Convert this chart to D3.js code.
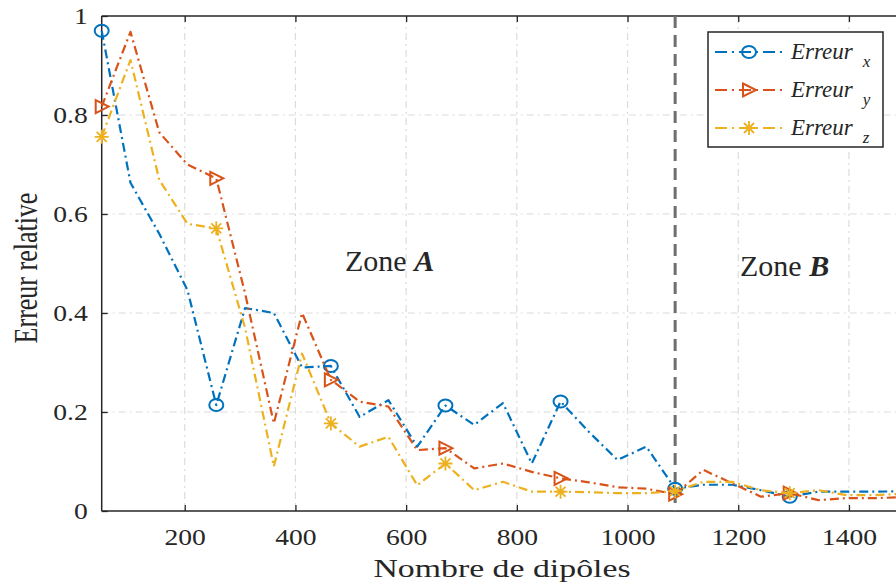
<!DOCTYPE html>
<html>
<head>
<meta charset="utf-8">
<script src="https://cdn.jsdelivr.net/npm/d3@7/dist/d3.min.js"></script>
<style>
  html, body { margin: 0; padding: 0; background: #fff; }
  svg { display: block; }
  text { font-family: "Liberation Serif", "Times New Roman", serif; fill: #262626; }
</style>
</head>
<body>
<svg id="chart" width="896" height="585"></svg>
<script>
// Number of dipoles (x) and relative error per component
const dipoles = [50, 102, 154, 205, 257, 309, 361, 412, 464, 516, 568, 620, 671, 723, 775,
                 827, 879, 930, 982, 1034, 1086, 1137, 1189, 1241, 1293, 1345, 1396, 1448, 1500];
const errX = [0.97, 0.663, 0.56, 0.446, 0.214, 0.41, 0.40, 0.29, 0.293, 0.19, 0.224, 0.13, 0.213, 0.174, 0.218,
              0.096, 0.221, 0.16, 0.103, 0.13, 0.045, 0.053, 0.053, 0.042, 0.029, 0.039, 0.039, 0.039, 0.04];
const errY = [0.817, 0.968, 0.765, 0.70, 0.672, 0.44, 0.177, 0.40, 0.265, 0.221, 0.211, 0.123, 0.127, 0.086, 0.096,
              0.079, 0.066, 0.058, 0.048, 0.045, 0.034, 0.083, 0.056, 0.029, 0.036, 0.022, 0.026, 0.026, 0.028];
const errZ = [0.756, 0.911, 0.669, 0.58, 0.571, 0.37, 0.09, 0.318, 0.177, 0.13, 0.15, 0.052, 0.096, 0.042, 0.059,
              0.039, 0.039, 0.038, 0.036, 0.036, 0.04, 0.059, 0.059, 0.042, 0.036, 0.042, 0.032, 0.032, 0.035];
const xTicks = [200, 400, 600, 800, 1000, 1200, 1400];
const yTicks = [0, 0.2, 0.4, 0.6, 0.8, 1];
const zoneBoundary = 1086;
const seriesNames = ["x", "y", "z"];
const seriesColors = ["#0072BD", "#D95319", "#EDB120"];
const seriesMarkers = ["circle", "triangle", "asterisk"];

const svg = d3.select("#chart");
const plotLeft = 101.7, plotRight = 904.3, plotTop = 16, plotBottom = 511;

const x = d3.scaleLinear().domain([50, 1500]).range([plotLeft, plotRight]);
const y = d3.scaleLinear().domain([0, 1]).range([plotBottom, plotTop]);

// grid
const grid = svg.append("g").attr("stroke", "#dcdcdc").attr("stroke-width", 1.2)
  .attr("stroke-dasharray", "7,4,2,4");
grid.selectAll(".gx").data(xTicks).join("line")
  .attr("x1", d => x(d)).attr("x2", d => x(d)).attr("y1", plotTop).attr("y2", plotBottom);
grid.selectAll(".gy").data(yTicks.filter(d => d > 0 && d < 1)).join("line")
  .attr("y1", d => y(d)).attr("y2", d => y(d)).attr("x1", plotLeft).attr("x2", 896);

// axes
const fmt = d3.format("~g");
const gBottom = svg.append("g").attr("transform", `translate(0,${plotBottom})`)
  .call(d3.axisBottom(x).tickValues(xTicks).tickSize(-6).tickPadding(0).tickFormat(d3.format("d")));
const gTop = svg.append("g").attr("transform", `translate(0,${plotTop})`)
  .call(d3.axisTop(x).tickValues(xTicks).tickSize(-6).tickFormat(""));
const gLeft = svg.append("g").attr("transform", `translate(${plotLeft},0)`)
  .call(d3.axisLeft(y).tickValues(yTicks).tickSize(-6).tickPadding(0).tickFormat(fmt));

[gBottom, gTop, gLeft].forEach(g => {
  g.select(".domain").remove();
  g.selectAll(".tick line").attr("stroke", "#262626").attr("stroke-width", 1.3);
});
gBottom.selectAll(".tick text")
  .attr("y", 0).attr("dy", 0)
  .attr("transform", "translate(0,34) scale(1.2,1)")
  .style("font-size", "23px").attr("fill", "#262626");
gLeft.selectAll(".tick text")
  .attr("x", 0).attr("dy", "0.33em")
  .attr("transform", "translate(-14,0) scale(1.2,1)")
  .style("font-size", "23px").attr("fill", "#262626");

// frame
const frame = svg.append("g").attr("stroke", "#262626").attr("stroke-width", 1.5).attr("fill", "none");
frame.append("line").attr("x1", plotLeft).attr("x2", plotLeft).attr("y1", plotTop).attr("y2", plotBottom);
frame.append("line").attr("x1", plotLeft).attr("x2", 896).attr("y1", plotTop).attr("y2", plotTop);
frame.append("line").attr("x1", plotLeft).attr("x2", 896).attr("y1", plotBottom).attr("y2", plotBottom);

// zone boundary
svg.append("line")
  .attr("x1", x(zoneBoundary)).attr("x2", x(zoneBoundary))
  .attr("y1", plotTop).attr("y2", plotBottom)
  .attr("stroke", "#6e6e6e").attr("stroke-width", 3).attr("stroke-dasharray", "12,7");

// marker drawing
function drawMarker(g, type, color) {
  if (type === "circle") {
    g.append("ellipse").attr("rx", 7).attr("ry", 6)
      .attr("fill", "none").attr("stroke", color).attr("stroke-width", 2);
  } else if (type === "triangle") {
    g.append("path").attr("d", "M-6,-6.5L7,0L-6,6.5Z")
      .attr("fill", "none").attr("stroke", color).attr("stroke-width", 2);
  } else {
    g.append("path").attr("d", "M-7,0H7M0,-7V7M-5,-5L5,5M-5,5L5,-5")
      .attr("fill", "none").attr("stroke", color).attr("stroke-width", 1.8);
  }
}

const series = [errX, errY, errZ];
const line = d3.line().x(d => x(d[0])).y(d => y(d[1]));
const plot = svg.append("g");
series.forEach((vals, k) => {
  const pts = dipoles.map((d, i) => [d, vals[i]]);
  plot.append("path").datum(pts).attr("d", line)
    .attr("fill", "none").attr("stroke", seriesColors[k]).attr("stroke-width", 2.2)
    .attr("stroke-dasharray", "9,4,2,4").attr("stroke-linejoin", "round");
  pts.filter((p, i) => i % 4 === 0).forEach(p => {
    const g = plot.append("g").attr("transform", `translate(${x(p[0])},${y(p[1])})`);
    drawMarker(g, seriesMarkers[k], seriesColors[k]);
  });
});

// zone labels
const zoneA = svg.append("text").attr("x", 345).attr("y", 271).style("font-size", "30px");
zoneA.append("tspan").text("Zone ");
zoneA.append("tspan").text("A").style("font-weight", "bold").style("font-style", "italic");
const zoneB = svg.append("text").attr("x", 740).attr("y", 276).style("font-size", "30px");
zoneB.append("tspan").text("Zone ");
zoneB.append("tspan").text("B").style("font-weight", "bold").style("font-style", "italic");

// axis titles
svg.append("g").attr("transform", "translate(502,577) scale(1.3,1)")
  .append("text").attr("text-anchor", "middle").style("font-size", "26px")
  .text("Nombre de dipôles");
svg.append("g").attr("transform", "translate(37,268) scale(1.3,1) rotate(-90)")
  .append("text").attr("text-anchor", "middle").style("font-size", "26px")
  .text("Erreur relative");

// legend
const legend = svg.append("g");
legend.append("rect").attr("x", 708).attr("y", 32).attr("width", 175).attr("height", 115)
  .attr("fill", "#fff").attr("stroke", "#262626").attr("stroke-width", 1.5);
const rowY = [52, 90, 128];
seriesNames.forEach((name, k) => {
  const ry = rowY[k];
  legend.append("line").attr("x1", 715).attr("x2", 785).attr("y1", ry).attr("y2", ry)
    .attr("stroke", seriesColors[k]).attr("stroke-width", 2).attr("stroke-dasharray", "12,5,2,5");
  drawMarker(legend.append("g").attr("transform", `translate(749,${ry})`), seriesMarkers[k], seriesColors[k]);
  const t = legend.append("text").attr("x", 791).attr("y", ry + 7)
    .style("font-size", "23px").style("font-style", "italic").attr("fill", "#111");
  t.append("tspan").text("Erreur");
  t.append("tspan").attr("dx", 10).attr("dy", 8).style("font-size", "17px").text(name);
});
</script>
</body>
</html>
